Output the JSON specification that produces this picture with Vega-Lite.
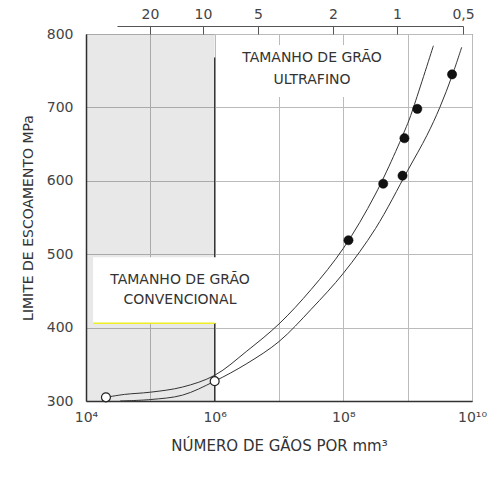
{
  "$schema": "https://vega.github.io/schema/vega-lite/v6.json",
  "width": 386,
  "height": 367,
  "autosize": {"type": "none"},
  "padding": {"left": 86, "top": 34, "right": 26, "bottom": 91},
  "background": "white",
  "config": {
    "view": {"stroke": "#555555", "strokeWidth": 1},
    "font": "DejaVu Sans",
    "axis": {
      "labelFont": "DejaVu Sans",
      "titleFont": "DejaVu Sans",
      "labelFontSize": 14,
      "titleFontSize": 14,
      "labelColor": "#444444",
      "titleColor": "#333333",
      "titleFontWeight": "normal",
      "gridColor": "#bbbbbb",
      "gridWidth": 1,
      "ticks": false,
      "domainColor": "#333333",
      "labelFlush": false
    }
  },
  "datasets": {
    "regions": [
      {"kind": "cinza", "x1": 10000, "x2": 1000000, "y1": 300, "y2": 800},
      {"kind": "limite", "x1": 1000000, "x2": 1000000, "y1": 300, "y2": 768},
      {"kind": "caixa", "x1": 12883, "x2": 1071519, "y1": 406, "y2": 496},
      {"kind": "caixa", "x1": 1288250, "x2": 630957344, "y1": 714, "y2": 785},
      {"kind": "amarelo", "x1": 12883, "x2": 1000000, "y1": 406, "y2": 406}
    ],
    "curves": [
      {"serie": "superior", "N": 20417, "sigma": 305},
      {"serie": "superior", "N": 39811, "sigma": 309},
      {"serie": "superior", "N": 100000, "sigma": 312},
      {"serie": "superior", "N": 316228, "sigma": 319},
      {"serie": "superior", "N": 1000000, "sigma": 335},
      {"serie": "superior", "N": 3162278, "sigma": 368},
      {"serie": "superior", "N": 10000000, "sigma": 405},
      {"serie": "superior", "N": 31622777, "sigma": 452},
      {"serie": "superior", "N": 100000000, "sigma": 508},
      {"serie": "superior", "N": 316227766, "sigma": 582},
      {"serie": "superior", "N": 1000000000, "sigma": 678},
      {"serie": "superior", "N": 1230268771, "sigma": 700},
      {"serie": "superior", "N": 2511886432, "sigma": 784},
      {"serie": "inferior", "N": 33884, "sigma": 300},
      {"serie": "inferior", "N": 100000, "sigma": 302},
      {"serie": "inferior", "N": 316228, "sigma": 308},
      {"serie": "inferior", "N": 1000000, "sigma": 327},
      {"serie": "inferior", "N": 3162278, "sigma": 351},
      {"serie": "inferior", "N": 10000000, "sigma": 381},
      {"serie": "inferior", "N": 31622777, "sigma": 425},
      {"serie": "inferior", "N": 100000000, "sigma": 474},
      {"serie": "inferior", "N": 316227766, "sigma": 535},
      {"serie": "inferior", "N": 1000000000, "sigma": 614},
      {"serie": "inferior", "N": 1995262315, "sigma": 662},
      {"serie": "inferior", "N": 3162277660, "sigma": 700},
      {"serie": "inferior", "N": 4897788194, "sigma": 743},
      {"serie": "inferior", "N": 6918309709, "sigma": 782}
    ],
    "points": [
      {"tipo": "cheio", "N": 120226443, "sigma": 519},
      {"tipo": "cheio", "N": 416869383, "sigma": 596},
      {"tipo": "cheio", "N": 831763771, "sigma": 607},
      {"tipo": "cheio", "N": 891250938, "sigma": 658},
      {"tipo": "cheio", "N": 1412537545, "sigma": 698},
      {"tipo": "cheio", "N": 4897788194, "sigma": 745},
      {"tipo": "vazio", "N": 20417, "sigma": 305},
      {"tipo": "vazio", "N": 1000000, "sigma": 327}
    ],
    "labels": [
      {"texto": "TAMANHO DE GRÃO", "N": 32580000, "sigma": 767},
      {"texto": "ULTRAFINO", "N": 32580000, "sigma": 737},
      {"texto": "TAMANHO DE GRÃO", "N": 289000, "sigma": 465.5},
      {"texto": "CONVENCIONAL", "N": 289000, "sigma": 437}
    ],
    "topticks": [
      {"d": "20", "N": 98800},
      {"d": "10", "N": 659000},
      {"d": "5", "N": 4720000},
      {"d": "2", "N": 69100000},
      {"d": "1", "N": 682000000},
      {"d": "0,5", "N": 7244000000}
    ]
  },
  "resolve": {"scale": {"x": "independent"}},
  "layer": [
    {
      "layer": [
        {
          "data": {"name": "regions"},
          "transform": [{"filter": "datum.kind == 'cinza'"}],
          "mark": {"type": "rect", "fill": "#000000", "opacity": 0.09},
          "encoding": {
            "x": {
              "field": "x1", "type": "quantitative",
              "scale": {"type": "log", "domain": [10000, 10000000000], "nice": false},
              "axis": {
                "values": [10000, 100000, 1000000, 10000000, 100000000, 1000000000, 10000000000],
                "labelExpr": "round(log(datum.value)/LN10) == 4 ? '10⁴' : round(log(datum.value)/LN10) == 6 ? '10⁶' : round(log(datum.value)/LN10) == 8 ? '10⁸' : round(log(datum.value)/LN10) == 10 ? '10¹⁰' : ''",
                "grid": true,
                "labelPadding": 9,
                "title": "NÚMERO DE GÃOS POR mm³",
                "titleFontSize": 15,
                "titlePadding": 14,
                "domainWidth": 1.5
              }
            },
            "x2": {"field": "x2"},
            "y": {
              "field": "y1", "type": "quantitative",
              "scale": {"domain": [300, 800], "nice": false, "zero": false},
              "axis": {
                "values": [300, 400, 500, 600, 700, 800],
                "grid": true,
                "labelPadding": 13,
                "title": "LIMITE DE ESCOAMENTO MPa",
                "titlePadding": 11,
                "domainWidth": 1.5
              }
            },
            "y2": {"field": "y2"}
          }
        },
        {
          "data": {"name": "regions"},
          "transform": [{"filter": "datum.kind == 'limite'"}],
          "mark": {"type": "rule", "color": "#333333", "strokeWidth": 1.3},
          "encoding": {
            "x": {"field": "x1", "type": "quantitative"},
            "y": {"field": "y1", "type": "quantitative"},
            "y2": {"field": "y2"}
          }
        },
        {
          "data": {"name": "regions"},
          "transform": [{"filter": "datum.kind == 'caixa'"}],
          "mark": {"type": "rect", "fill": "white"},
          "encoding": {
            "x": {"field": "x1", "type": "quantitative"},
            "x2": {"field": "x2"},
            "y": {"field": "y1", "type": "quantitative"},
            "y2": {"field": "y2"}
          }
        },
        {
          "data": {"name": "regions"},
          "transform": [{"filter": "datum.kind == 'amarelo'"}],
          "mark": {"type": "rule", "color": "#eeee22", "strokeWidth": 1.5},
          "encoding": {
            "x": {"field": "x1", "type": "quantitative"},
            "x2": {"field": "x2"},
            "y": {"field": "y1", "type": "quantitative"}
          }
        },
        {
          "data": {"name": "curves"},
          "mark": {"type": "line", "interpolate": "catmull-rom", "color": "#333333", "strokeWidth": 1},
          "encoding": {
            "detail": {"field": "serie"},
            "x": {"field": "N", "type": "quantitative"},
            "y": {"field": "sigma", "type": "quantitative"}
          }
        },
        {
          "data": {"name": "points"},
          "transform": [{"filter": "datum.tipo == 'cheio'"}],
          "mark": {"type": "point", "shape": "circle", "filled": true, "fill": "#111111", "stroke": "#000000", "strokeWidth": 0.5, "size": 85, "opacity": 1},
          "encoding": {
            "x": {"field": "N", "type": "quantitative"},
            "y": {"field": "sigma", "type": "quantitative"}
          }
        },
        {
          "data": {"name": "points"},
          "transform": [{"filter": "datum.tipo == 'vazio'"}],
          "mark": {"type": "point", "shape": "circle", "filled": true, "fill": "white", "stroke": "#222222", "strokeWidth": 1.2, "size": 80, "opacity": 1},
          "encoding": {
            "x": {"field": "N", "type": "quantitative"},
            "y": {"field": "sigma", "type": "quantitative"}
          }
        },
        {
          "data": {"name": "labels"},
          "mark": {"type": "text", "fontSize": 14, "color": "#333333", "align": "center", "baseline": "middle", "font": "DejaVu Sans"},
          "encoding": {
            "x": {"field": "N", "type": "quantitative"},
            "y": {"field": "sigma", "type": "quantitative"},
            "text": {"field": "texto"}
          }
        }
      ]
    },
    {
      "data": {"name": "topticks"},
      "mark": {"type": "tick", "opacity": 0},
      "encoding": {
        "x": {
          "field": "N", "type": "quantitative",
          "scale": {"type": "log", "domain": [30340, 7244000000], "range": [31, 377], "nice": false},
          "axis": {
            "orient": "top",
            "values": [98800, 659000, 4720000, 69100000, 682000000, 7244000000],
            "labelExpr": "datum.value < 2e5 ? '20' : datum.value < 2e6 ? '10' : datum.value < 2e7 ? '5' : datum.value < 2e8 ? '2' : datum.value < 2e9 ? '1' : '0,5'",
            "offset": 8,
            "ticks": true,
            "tickSize": -8,
            "tickColor": "#555555",
            "domainColor": "#555555",
            "domainWidth": 1,
            "labelPadding": 13,
            "grid": false,
            "title": null
          }
        }
      }
    }
  ]
}
